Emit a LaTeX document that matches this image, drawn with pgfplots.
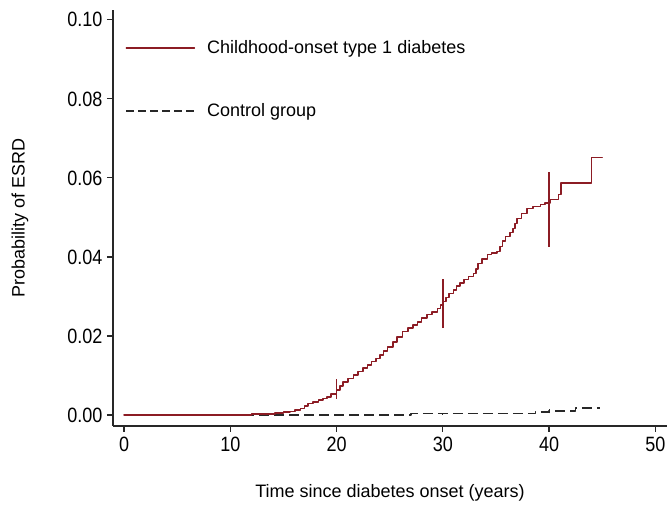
\documentclass[border=0pt]{standalone}
\usepackage{graphicx}
\usepackage{pgfplots}
\pgfplotsset{compat=1.18}
\usepackage{fontspec}
\setmainfont{Liberation Sans}
\definecolor{kmred}{RGB}{140,28,36}
\definecolor{kmgray}{RGB}{40,40,40}
\begin{document}
\begin{tikzpicture}
\begin{axis}[
  name=ax,
  scale only axis,
  width=415.5pt, height=312pt,
  xmin=-1.04, xmax=51.1,
  ymin=-0.0028, ymax=0.1025,
  axis x line=bottom, axis y line=left,
  axis line style={-, line width=1pt, color=kmgray},
  xtick={0,10,20,30,40,50},
  ytick={0,0.02,0.04,0.06,0.08,0.10},
  tick style={line width=0.9pt, color=kmgray},
  tick align=outside,
  major tick length=4.5pt,
  /pgf/number format/assume math mode=true,
  xticklabel={\scalebox{1}[1.15]{\pgfmathprintnumber{\tick}}},
  yticklabel={\scalebox{1}[1.15]{\pgfmathprintnumber[fixed,fixed zerofill,precision=2]{\tick}}},
  ticklabel style={font=\fontsize{13.5}{16}\selectfont, text=black},
  xlabel={Time since diabetes onset (years)},
  ylabel={Probability of ESRD},
  label style={font=\fontsize{13.5}{16}\selectfont},
  xlabel style={at={(axis description cs:0.5,-0.161)}, anchor=center},
  ylabel style={at={(axis description cs:-0.168,0.5)}, anchor=center},
  legend style={draw=none, fill=none, at={(axis description cs:0.015,0.94)}, anchor=north west,
    font=\fontsize{13.5}{16}\selectfont, row sep=32pt},
  legend cell align=left,
  legend image code/.code={\draw[#1] (0pt,0pt) -- (51pt,0pt); \path (58pt,0pt);},
  clip=false,
]
% control group
\addplot[const plot, color=kmgray, line width=1.1pt, line join=round, dash pattern=on 7.5pt off 3.75pt, forget plot] coordinates {
(0,0) (27.0,0.0003) (38.7,0.0008) (40.0,0.0010) (42.5,0.0018) (44.8,0.0018)
};
\addplot[color=kmgray, line width=0.8pt, forget plot] coordinates {(30,0.0000) (30,0.0006)};
\addplot[color=kmgray, line width=0.8pt, forget plot] coordinates {(40,0.0004) (40,0.0016)};
% childhood-onset
\addplot[const plot, color=kmred, line width=1.2pt, line join=round, line cap=round] coordinates {
(0,0) (12.0,0.0002) (14.2,0.0005) (15.0,0.0007) (15.6,0.0009) (16.1,0.0012) (16.6,0.0016)
(17.0,0.0022) (17.3,0.0029) (17.8,0.0033) (18.3,0.0038) (18.7,0.0042) (19.1,0.0046)
(19.5,0.0053) (20.0,0.0063) (20.3,0.0074) (20.6,0.0084) (21.1,0.0092) (21.6,0.0101)
(22.0,0.0110) (22.5,0.0119) (22.9,0.0127) (23.3,0.0135) (23.7,0.0143) (24.1,0.0152)
(24.4,0.0162) (24.8,0.0172) (25.3,0.0185) (25.7,0.0197) (26.2,0.0211) (26.7,0.0220)
(27.2,0.0228) (27.6,0.0236) (28.0,0.0245) (28.5,0.0254) (29.0,0.0261) (29.5,0.0269)
(29.8,0.0278) (30.0,0.0287) (30.3,0.0297) (30.6,0.0307) (31.0,0.0317) (31.3,0.0326)
(31.6,0.0334) (32.0,0.0343) (32.4,0.0350) (32.9,0.0358) (33.1,0.0370) (33.3,0.0383)
(33.7,0.0394) (34.2,0.0406) (34.6,0.0410) (35.1,0.0414) (35.4,0.0426) (35.6,0.0440)
(35.9,0.0452) (36.3,0.0462) (36.6,0.0472) (36.8,0.0485) (37.0,0.0497) (37.4,0.0510)
(37.9,0.0523) (38.5,0.0528) (39.2,0.0533) (39.6,0.0537) (40.1,0.0545) (40.9,0.0558)
(41.1,0.0587) (44.0,0.0652) (45.0,0.0652)
};
\addlegendentry{Childhood-onset type 1 diabetes}
\addplot[color=kmred, line width=1.1pt, forget plot] coordinates {(20,0.0041) (20,0.0091)};
\addplot[color=kmred, line width=1.1pt, forget plot] coordinates {(30,0.0220) (30,0.0345)};
\addplot[color=kmred, line width=1.1pt, forget plot] coordinates {(40,0.0426) (40,0.0614)};
\addlegendimage{color=kmgray, line width=1.1pt, dash pattern=on 6pt off 3pt}
\addlegendentry{Control group}
\end{axis}
\pgfresetboundingbox
\path[use as bounding box] ([shift={(-84.75pt,-60pt)}]ax.south west) rectangle ([shift={(0pt,7.5pt)}]ax.north east);
\end{tikzpicture}
\end{document}
